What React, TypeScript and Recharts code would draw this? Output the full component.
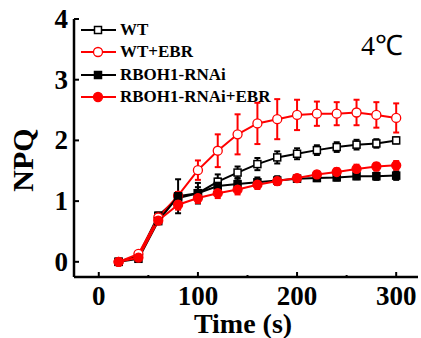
import React from "react";
import {
  ComposedChart,
  Line,
  XAxis,
  YAxis,
  ErrorBar,
  Legend,
} from "recharts";

const time = [20, 40, 60, 80, 100, 120, 140, 160, 180, 200, 220, 240, 260, 280, 300];
const wt = [0, 0.1, 0.76, 1.05, 1.13, 1.32, 1.47, 1.61, 1.72, 1.78, 1.84, 1.89, 1.93, 1.95, 2.0];
const wtErr = [0.01, 0.03, 0.05, 0.1, 0.1, 0.12, 0.1, 0.1, 0.1, 0.09, 0.08, 0.08, 0.08, 0.07, 0.05];
const wtEbr = [0, 0.13, 0.73, 1.09, 1.51, 1.83, 2.1, 2.28, 2.35, 2.42, 2.44, 2.44, 2.46, 2.42, 2.37];
const wtEbrErr = [0.01, 0.03, 0.08, 0.05, 0.16, 0.27, 0.33, 0.34, 0.33, 0.25, 0.2, 0.19, 0.21, 0.21, 0.24];
const rnai = [0, 0.05, 0.67, 1.08, 1.13, 1.25, 1.28, 1.31, 1.34, 1.37, 1.38, 1.39, 1.41, 1.41, 1.42];
const rnaiErr = [0.01, 0.03, 0.04, 0.28, 0.17, 0.12, 0.1, 0.08, 0.07, 0.05, 0.05, 0.05, 0.05, 0.06, 0.07];
const rnaiEbr = [0, 0.07, 0.68, 0.94, 1.05, 1.13, 1.19, 1.27, 1.33, 1.38, 1.44, 1.48, 1.53, 1.57, 1.59];
const rnaiEbrErr = [0.01, 0.03, 0.04, 0.08, 0.08, 0.08, 0.08, 0.07, 0.06, 0.05, 0.05, 0.06, 0.07, 0.06, 0.07];

const xTicks = [0, 50, 100, 150, 200, 250, 300];
const yTicks = [0, 1, 2, 3, 4];

const seriesInfo = [
  { key: "wt", name: "WT", color: "#000", marker: "square", filled: false },
  { key: "wtEbr", name: "WT+EBR", color: "#ff0000", marker: "circle", filled: false },
  { key: "rnai", name: "RBOH1-RNAi", color: "#000", marker: "square", filled: true },
  { key: "rnaiEbr", name: "RBOH1-RNAi+EBR", color: "#ff0000", marker: "circle", filled: true },
];

const data = time.map((t, i) => ({
  t,
  wt: wt[i],
  wtErr: wtErr[i],
  wtEbr: wtEbr[i],
  wtEbrErr: wtEbrErr[i],
  rnai: rnai[i],
  rnaiErr: rnaiErr[i],
  rnaiEbr: rnaiEbr[i],
  rnaiEbrErr: rnaiEbrErr[i],
}));

const FONT = "'Liberation Serif', 'Times New Roman', serif";

const Marker = ({ cx, cy, s }: any) => {
  if (cx == null || cy == null) return null;
  const fill = s.filled ? s.color : "#fff";
  if (s.marker === "square") {
    return (
      <rect x={cx - 3.5} y={cy - 3.5} width={7} height={7} fill={fill} stroke={s.color} strokeWidth={1.5} />
    );
  }
  return <circle cx={cx} cy={cy} r={4.5} fill={fill} stroke={s.color} strokeWidth={1.3} />;
};

const BottomTick = ({ x, y, payload }: any) => {
  const major = payload.value % 100 === 0;
  return (
    <g>
      <line x1={x} x2={x} y1={y} y2={y - (major ? 5 : 2)} stroke="#000" strokeWidth={2} />
      {major && (
        <text x={x} y={y + 28} textAnchor="middle" fontFamily={FONT} fontWeight="bold" fontSize={27} fill="#000">
          {payload.value}
        </text>
      )}
    </g>
  );
};

const TopTick = ({ x, y }: any) => (
  <line x1={x} x2={x} y1={y} y2={y + 2} stroke="#000" strokeWidth={1.5} />
);

const LeftTick = ({ x, y, payload }: any) => (
  <g>
    <line x1={x} x2={x + 5} y1={y} y2={y} stroke="#000" strokeWidth={2} />
    <text x={x - 6} y={y + 9} textAnchor="end" fontFamily={FONT} fontWeight="bold" fontSize={27} fill="#000">
      {payload.value}
    </text>
  </g>
);

const LegendContent = () => (
  <div style={{ fontFamily: FONT, fontWeight: "bold", fontSize: 17 }}>
    {seriesInfo.map((s) => (
      <div key={s.key} style={{ display: "flex", alignItems: "center", height: 22.3 }}>
        <svg width={36} height={22} style={{ marginRight: 3 }}>
          <line x1={0} x2={35} y1={11} y2={11} stroke={s.color} strokeWidth={2} />
          <Marker cx={17} cy={11} s={s} />
        </svg>
        <span style={{ lineHeight: "22px" }}>{s.name}</span>
      </div>
    ))}
  </div>
);

export default function App() {
  return (
    <div style={{ position: "absolute", left: 0, top: 0, background: "#fff" }}>
      <ComposedChart width={421} height={338} data={data} margin={{ top: 19, right: 3, bottom: 0, left: 0 }}>
        <XAxis
          dataKey="t"
          type="number"
          domain={[-25, 322]}
          ticks={xTicks}
          allowDataOverflow
          height={61}
          tickSize={0}
          tickMargin={0}
          tickLine={false}
          tick={<BottomTick />}
          interval={0}
          axisLine={{ stroke: "#000", strokeWidth: 2.5 }}
          label={{
            content: ({ viewBox }: any) => (
              <text
                x={viewBox.x + viewBox.width / 2 - 3}
                y={333}
                textAnchor="middle"
                fontFamily={FONT}
                fontWeight="bold"
                fontSize={28}
                fill="#000"
              >
                Time (s)
              </text>
            ),
          }}
        />
        <XAxis
          xAxisId="top"
          dataKey="t"
          type="number"
          orientation="top"
          domain={[-25, 322]}
          ticks={xTicks}
          allowDataOverflow
          height={0}
          tickSize={0}
          tickMargin={0}
          tickLine={false}
          tick={<TopTick />}
          interval={0}
          axisLine={{ stroke: "#000", strokeWidth: 2.5 }}
        />
        <YAxis
          type="number"
          domain={[-0.25, 4]}
          ticks={yTicks}
          allowDataOverflow
          width={74}
          tickSize={0}
          tickMargin={0}
          tickLine={false}
          tick={<LeftTick />}
          interval={0}
          axisLine={{ stroke: "#000", strokeWidth: 2.5 }}
          label={{
            content: ({ viewBox }: any) => {
              const cx = 22;
              const cy = viewBox.y + viewBox.height / 2 + 12;
              return (
                <text
                  x={cx}
                  y={cy}
                  transform={`rotate(-90 ${cx} ${cy})`}
                  textAnchor="middle"
                  dominantBaseline="central"
                  fontFamily={FONT}
                  fontWeight="bold"
                  fontSize={30}
                  fill="#000"
                >
                  NPQ
                </text>
              );
            },
          }}
        />
        <YAxis
          yAxisId="right"
          orientation="right"
          type="number"
          domain={[-0.25, 4]}
          width={0}
          tick={false}
          tickLine={false}
          axisLine={{ stroke: "#000", strokeWidth: 2.5 }}
        />
        <Legend
          layout="vertical"
          align="center"
          verticalAlign="middle"
          wrapperStyle={{ left: 81, top: 19, width: 220 }}
          content={<LegendContent />}
        />
        {seriesInfo.map((s) => (
          <Line
            key={s.key}
            dataKey={s.key}
            name={s.name}
            stroke={s.color}
            strokeWidth={2}
            isAnimationActive={false}
            dot={(p: any) => <Marker key={`${s.key}-${p.index}`} cx={p.cx} cy={p.cy} s={s} />}
            activeDot={false}
          >
            <ErrorBar dataKey={`${s.key}Err`} direction="y" width={3} stroke={s.color} strokeWidth={2} isAnimationActive={false} />
          </Line>
        ))}
        <text x={403} y={55} textAnchor="end" fontFamily={FONT} fontSize={28} fill="#000">
          4℃
        </text>
      </ComposedChart>
    </div>
  );
}
